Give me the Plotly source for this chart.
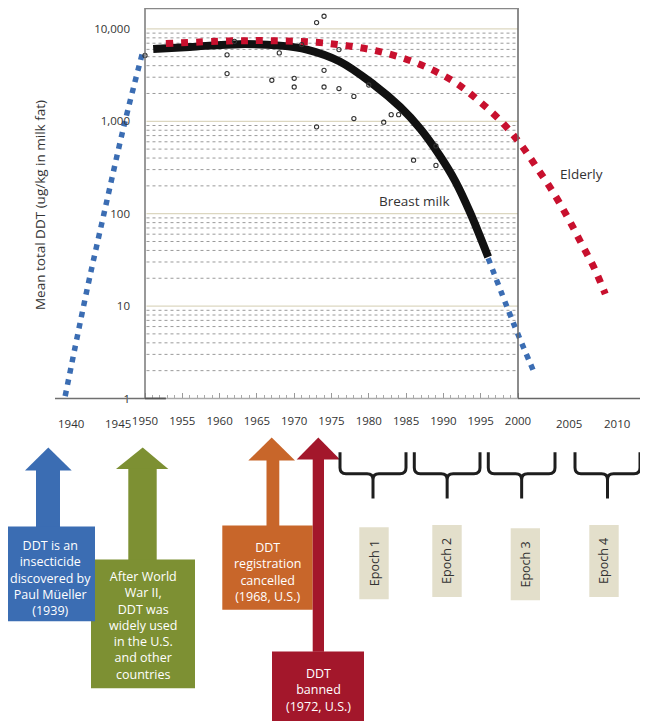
import plotly.graph_objects as go

# ---------------- data ----------------
# Breast milk fitted curve (solid black)
milk_year = [1951.1, 1956.0, 1962.7, 1968.1, 1971.7, 1976.1, 1980.6, 1984.2, 1986.9, 1989.5, 1991.6, 1993.6, 1996.0]
milk_val = [6070, 6380, 6840, 6590, 5970, 4440, 2520, 1430, 830, 426, 224, 102, 34]

# Elderly curve (red dotted)
elderly_year = [1952.8, 1961.1, 1967.1, 1973.0, 1977.0, 1980.9, 1984.6, 1988.3, 1991.8, 1994.9,
                1997.8, 2000.3, 2002.5, 2004.7, 2006.7, 2008.5, 2010.3, 2011.7]
elderly_val = [6930, 7400, 7450, 7150, 6590, 5820, 4820, 3670, 2560, 1625,
               986, 572, 317, 171, 90, 47.6, 25, 13.5]

# Extrapolated rise before 1950 and decline after 1996 (blue dotted)
early_year = [1939.3, 1942.3, 1944.5, 1947.3, 1949.8]
early_val = [1.06, 16, 100, 980, 6070]
late_year = [1996.0, 1999.4, 2002.3]
late_val = [33, 6.5, 1.8]

# Individual study means (open circles)
pt_year = [1950, 1962, 1961, 1961, 1968, 1967, 1970, 1970, 1971, 1973, 1974, 1974, 1974,
           1973, 1976, 1976, 1978, 1978, 1980, 1982, 1983, 1984, 1986, 1989, 1989]
pt_val = [5150, 7330, 5240, 3280, 5500, 2780, 2920, 2350, 6760, 11700, 13700, 3560, 2350,
          871, 5970, 2260, 1860, 1070, 2470, 977, 1180, 1180, 379, 541, 333]

# Axis ticks
x_ticks = list(range(1950, 2001, 5))
x_minor = [y for y in range(1950, 2001) if y % 5 != 0]
outer_x_labels = ["1940", "1945", "2005", "2010"]
y_ticks = [1, 10, 100, 1000, 10000]
y_ticktext = ["1", "10", "100", "1,000", "10,000"]
grid_decades = [10, 100, 1000, 10000]
grid_minor = [m * d for d in [1, 10, 100, 1000] for m in range(2, 10)]

# Timeline texts
box_texts = [
    "DDT is an<br>insecticide<br>discovered by<br>Paul Müeller<br>(1939)",
    "After World<br>War II,<br>DDT was<br>widely used<br>in the U.S.<br>and other<br>countries",
    "DDT<br>registration<br>cancelled<br>(1968, U.S.)",
    "DDT<br>banned<br>(1972, U.S.)",
]
epoch_labels = ["Epoch 1", "Epoch 2", "Epoch 3", "Epoch 4"]

# ---------------- layout geometry (page pixels) ----------------
PAGE_W, PAGE_H = 648, 728
OFF = 8                              # default body margin of the html page
FW, FH = PAGE_W - OFF, PAGE_H - OFF  # figure size
BOX_L, BOX_R = 145, 518              # page x of 1950 and 2000
PX_PER_YR = (BOX_R - BOX_L) / 50.0
X0 = 1950 - (BOX_L - OFF) / PX_PER_YR
X1 = 1950 + (PAGE_W - BOX_L) / PX_PER_YR
Y_BASE, DEC = 402.3, 93.3            # page y of value 1, pixels per decade
YTOP_LOG = (Y_BASE - OFF) / DEC

FONT = "Open Sans"
TXT = "#333333"
BLUE = "#3b6db3"
RED = "#c8102e"
GREEN = "#7d9033"
ORANGE = "#c8662a"
DARKRED = "#a3172b"
BEIGE = "#e3dfcb"


def px(x):
    return (x - OFF) / FW


def py(y):
    return 1 - (y - OFF) / FH


fig = go.Figure()

fig.add_trace(go.Scatter(x=early_year, y=early_val, mode="lines",
                         line=dict(color=BLUE, width=5.5, dash="5.5px,6px", shape="spline"),
                         hoverinfo="skip"))
fig.add_trace(go.Scatter(x=late_year, y=late_val, mode="lines",
                         line=dict(color=BLUE, width=5.5, dash="5.5px,6px", shape="spline"),
                         hoverinfo="skip"))
fig.add_trace(go.Scatter(x=milk_year, y=milk_val, mode="lines",
                         line=dict(color="#111111", width=8, shape="spline"),
                         hoverinfo="skip"))
fig.add_trace(go.Scatter(x=elderly_year, y=elderly_val, mode="lines",
                         line=dict(color=RED, width=7, dash="7px,8px", shape="spline"),
                         hoverinfo="skip"))
fig.add_trace(go.Scatter(x=pt_year, y=pt_val, mode="markers",
                         marker=dict(symbol="circle-open", size=4.2, color="#333333",
                                     line=dict(width=1.1, color="#333333")),
                         hoverinfo="skip"))

shapes = []
# gridlines inside the box
for v in grid_minor:
    shapes.append(dict(type="line", xref="x", yref="y", x0=1950.2, x1=2000, y0=v, y1=v,
                       line=dict(color="#9a9a9a", width=1, dash="dot"), layer="below"))
for v in grid_decades:
    shapes.append(dict(type="line", xref="x", yref="y", x0=1950.2, x1=2000, y0=v, y1=v,
                       line=dict(color="#dcd7c0", width=1.3), layer="below"))
# box frame
shapes.append(dict(type="line", xref="x", yref="y domain", x0=1950, x1=1950, y0=0, y1=1,
                   line=dict(color="#777777", width=1.5)))
shapes.append(dict(type="line", xref="x", yref="y domain", x0=2000, x1=2000, y0=0, y1=1,
                   line=dict(color="#666666", width=1.5)))
shapes.append(dict(type="line", xref="x", yref="y domain", x0=1950, x1=2000, y0=0.999, y1=0.999,
                   line=dict(color="#888888", width=1.5)))
# baseline
shapes.append(dict(type="line", xref="paper", yref="y domain", x0=px(55), x1=px(BOX_L), y0=0, y1=0,
                   line=dict(color="#707070", width=1.5)))
shapes.append(dict(type="line", xref="x", yref="y domain", x0=1950, x1=2000, y0=0, y1=0,
                   line=dict(color="#aaaaaa", width=1.5)))
shapes.append(dict(type="line", xref="x", yref="y domain", x0=1950, x1=1952.8, y0=0, y1=0,
                   line=dict(color="#555555", width=1.8)))
shapes.append(dict(type="line", xref="paper", yref="y domain", x0=px(BOX_R), x1=1, y0=0, y1=0,
                   line=dict(color="#666666", width=1.5)))


def rect(x0, y0, x1, y1, color):
    return dict(type="rect", xref="paper", yref="paper", x0=max(px(x0), 0), x1=px(x1), y0=py(y1), y1=py(y0),
                fillcolor=color, line=dict(width=0), layer="above")


def tri(tipx, tipy, bl, br, by, color):
    path = f"M {px(tipx)},{py(tipy)} L {px(br)},{py(by)} L {px(bl)},{py(by)} Z"
    return dict(type="path", xref="paper", yref="paper", path=path,
                fillcolor=color, line=dict(width=0), layer="above")


def arrow(tipx, tipy, bl, br, by, sl, sr, sbot, color):
    return [tri(tipx, tipy, bl, br, by, color), rect(sl, by - 0.5, sr, sbot, color)]


# green (behind blue)
shapes += arrow(142.7, 451.7, 116, 168.3, 473.5, 128.3, 156.7, 566, GREEN)
shapes.append(rect(91, 565, 195, 695, GREEN))
# blue
shapes += arrow(48.3, 451.7, 25, 71.7, 475, 36, 60, 532, BLUE)
shapes.append(rect(0, 531.5, 95, 627.3, BLUE))
# orange
shapes += arrow(271.7, 441.7, 248.3, 295, 465, 266.5, 279.3, 531, ORANGE)
shapes.append(rect(222.3, 530.7, 312.7, 615.7, ORANGE))
# dark red
shapes += arrow(318.3, 441.7, 296.7, 340, 464, 312.7, 324, 658, DARKRED)
shapes.append(rect(272, 657.7, 364, 728, DARKRED))


# braces
def brace(xl, xr, ytop=456.7, ymid=478.3, ybot=503.3, r=6):
    xc = (xl + xr) / 2
    p = (f"M {px(xl)},{py(ytop)} L {px(xl)},{py(ymid - r)} Q {px(xl)},{py(ymid)} {px(xl + r)},{py(ymid)} "
         f"L {px(xc - r)},{py(ymid)} Q {px(xc)},{py(ymid)} {px(xc)},{py(ymid + r)} L {px(xc)},{py(ybot)} "
         f"M {px(xr)},{py(ytop)} L {px(xr)},{py(ymid - r)} Q {px(xr)},{py(ymid)} {px(xr - r)},{py(ymid)} "
         f"L {px(xc + r)},{py(ymid)} Q {px(xc)},{py(ymid)} {px(xc)},{py(ymid + r)}")
    return dict(type="path", xref="paper", yref="paper", path=p, line=dict(color="#1e1e1e", width=3),
                layer="above")


brace_spans = [(340, 406), (414.3, 480), (488.3, 555), (575, 640)]
for a, b in brace_spans:
    shapes.append(brace(a, b))

epoch_boxes = [(359.3, 532.3, 388.7, 605), (432.3, 530, 461.7, 602.7),
               (510.7, 533.3, 540, 606), (589.3, 530, 618.7, 602.7)]
for (a, b, c, d) in epoch_boxes:
    shapes.append(rect(a, b, c, d, BEIGE))

annotations = []
# y title
annotations.append(dict(x=px(40), y=py(207), xref="paper", yref="paper", text="Mean total DDT (ug/kg in milk fat)",
                        textangle=-90, showarrow=False, font=dict(family=FONT, size=13.5, color=TXT),
                        xanchor="center", yanchor="middle"))
# outer year labels
for lab, xx in zip(outer_x_labels, [70.7, 118.3, 569, 617]):
    annotations.append(dict(x=px(xx), y=py(427.5), xref="paper", yref="paper", text=lab, showarrow=False,
                            font=dict(family=FONT, size=11.5, color=TXT), xanchor="center", yanchor="middle"))
# series labels
annotations.append(dict(x=px(414.3), y=py(202.7), xref="paper", yref="paper", text="Breast milk", showarrow=False,
                        font=dict(family=FONT, size=13.5, color=TXT), xanchor="center", yanchor="middle"))
annotations.append(dict(x=px(581), y=py(176), xref="paper", yref="paper", text="Elderly", showarrow=False,
                        font=dict(family=FONT, size=13.5, color=TXT), xanchor="center", yanchor="middle"))
# box texts
for t, (cx, cy) in zip(box_texts, [(50.5, 583.5), (142.5, 631.5), (267, 577.5), (318, 696.5)]):
    annotations.append(dict(x=px(cx), y=py(cy), xref="paper", yref="paper", text=t, showarrow=False,
                            align="center", font=dict(family=FONT, size=12.5, color="white"),
                            xanchor="center", yanchor="middle"))
# epoch texts
for lab, (a, b, c, d) in zip(epoch_labels, epoch_boxes):
    annotations.append(dict(x=px((a + c) / 2), y=py((b + d) / 2), xref="paper", yref="paper", text=lab,
                            textangle=-90, showarrow=False, font=dict(family=FONT, size=12.5, color=TXT),
                            xanchor="center", yanchor="middle"))

fig.update_layout(
    width=FW, height=FH,
    margin=dict(l=0, r=0, t=0, b=0),
    paper_bgcolor="white", plot_bgcolor="white",
    showlegend=False, hovermode=False,
    font=dict(family=FONT, color=TXT),
    shapes=shapes, annotations=annotations,
    xaxis=dict(domain=[0, 1], range=[X0, X1], showgrid=False, zeroline=False, showline=False,
               tickmode="array", tickvals=x_ticks, ticktext=[str(v) for v in x_ticks],
               ticks="inside", ticklen=5, tickwidth=1, tickcolor="#999999",
               minor=dict(tickmode="array", tickvals=x_minor, ticks="inside", ticklen=3, tickwidth=1,
                          tickcolor="#aaaaaa", showgrid=False),
               tickfont=dict(family=FONT, size=11.5, color=TXT), ticklabelstandoff=14,
               anchor="y", fixedrange=True),
    yaxis=dict(type="log", domain=[1 - (Y_BASE - OFF) / FH, 1], range=[0, YTOP_LOG],
               anchor="free", position=(BOX_L - OFF) / FW, showgrid=False, zeroline=False, showline=False,
               tickmode="array", tickvals=y_ticks, ticktext=y_ticktext, ticks="",
               tickfont=dict(family=FONT, size=11.5, color=TXT), ticklabelstandoff=15, fixedrange=True),
)

fig.write_html("out.html")
